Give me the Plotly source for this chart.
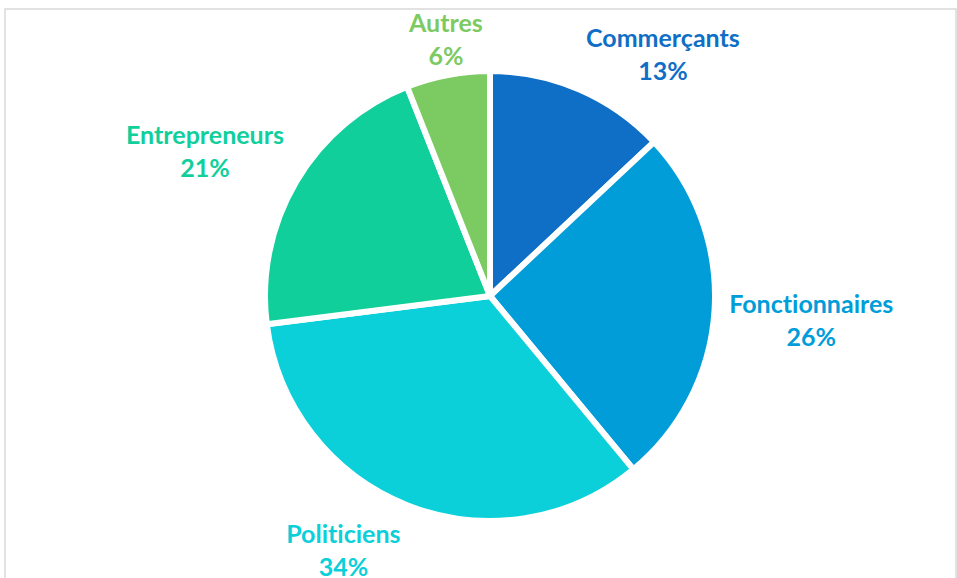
import math
import plotly.graph_objects as go

categories = ["Commerçants", "Fonctionnaires", "Politiciens", "Entrepreneurs", "Autres"]
values = [13, 26, 34, 21, 6]
colors = ["#0F6FC6", "#009DD9", "#0BD0D9", "#10CF9B", "#7CCA62"]

W, H = 957, 578
cx, cy, r = 490, 296, 225
label_r = r + 12

fig = go.Figure(go.Pie(
    labels=categories,
    values=values,
    sort=False,
    direction="clockwise",
    rotation=0,
    marker=dict(colors=colors, line=dict(color="white", width=6)),
    textinfo="none",
    showlegend=False,
    hoverinfo="label+percent",
    domain=dict(x=[(cx - r) / W, (cx + r) / W], y=[(H - cy - r) / H, (H - cy + r) / H]),
))

# data labels placed outside each slice, at the slice's mid-angle
total = sum(values)
cum = 0
annotations = []
for lab, v, col in zip(categories, values, colors):
    mid = (cum + v / 2) / total * 2 * math.pi
    cum += v
    s, c = math.sin(mid), math.cos(mid)
    px = cx + label_r * s
    py = cy - label_r * c
    xa = "left" if s > 0.3 else ("right" if s < -0.3 else "center")
    ya = "bottom" if c > 0.3 else ("top" if c < -0.3 else "middle")
    annotations.append(dict(
        x=px / W, y=1 - py / H, xref="paper", yref="paper",
        text=f"<b>{lab}<br>{round(v / total * 100)}%</b>",
        showarrow=False, xanchor=xa, yanchor=ya, align="center",
        yshift=0 if ya == "top" else -9,
        font=dict(family="Lato", size=25, color=col),
    ))

fig.update_layout(
    width=W, height=H,
    margin=dict(l=0, r=0, t=0, b=0),
    paper_bgcolor="white",
    plot_bgcolor="white",
    annotations=annotations,
    shapes=[dict(type="rect", xref="paper", yref="paper",
                 x0=5 / W, x1=956 / W, y0=-0.05, y1=1 - 9 / H,
                 line=dict(color="#D9D9D9", width=1.5), fillcolor="rgba(0,0,0,0)")],
)

fig.write_html(
    "out.html", config={"displayModeBar": False},
    post_script=("document.body.style.margin='0';document.body.style.overflow='hidden';"
                 "document.querySelectorAll('text').forEach(function(t){"
                 "t.style.fontVariantLigatures='none';t.style.fontFeatureSettings='\"liga\" 0';});"),
)
